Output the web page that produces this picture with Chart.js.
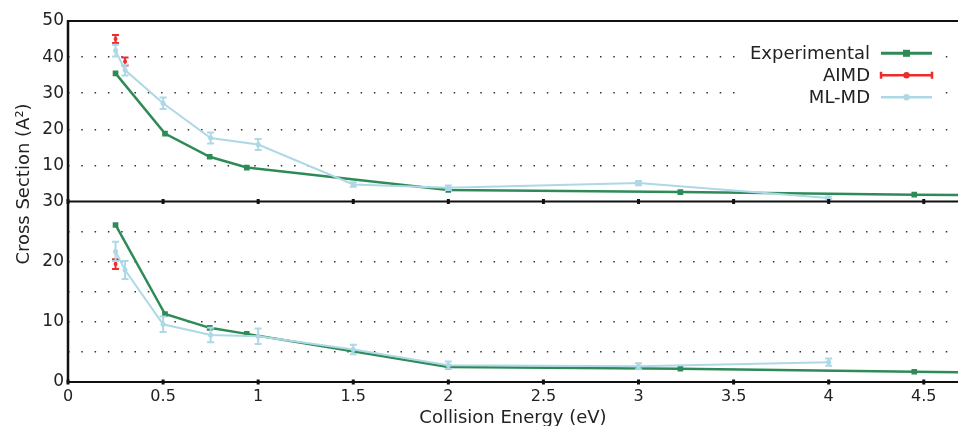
<!DOCTYPE html>
<html lang="en">
<head>
  <meta charset="UTF-8">
  <title>Cross Section vs Collision Energy</title>
  <script src="https://cdn.jsdelivr.net/npm/chart.js"></script>
  <style>
    html, body { margin: 0; padding: 0; background: #fff; overflow: hidden; }
    #wrap { width: 958px; height: 426px; overflow: hidden; }
  </style>
</head>
<body>
  <div id="wrap"><canvas id="csChart" width="962" height="426"></canvas></div>

  <script>
    // Experimental (green squares), same energies for both panels
    const expEnergy = [0.25, 0.51, 0.745, 0.94, 2.0, 3.22, 4.45, 5.0];
    const expTop = [35.5, 18.8, 12.4, 9.4, 3.2, 2.6, 1.9, 1.7];
    const expBottom = [26.1, 11.3, 9.0, 8.0, 2.5, 2.2, 1.7, 1.5];

    // ML-MD (light blue, with error bars)
    const mlEnergy = [0.25, 0.3, 0.5, 0.75, 1.0, 1.5, 2.0, 3.0, 4.0];
    const mlTop = [41.8, 36.4, 27.2, 17.6, 15.8, 4.7, 3.8, 5.1, 1.0];
    const mlTopErr = [1.6, 1.5, 1.6, 1.5, 1.5, 0.6, 0.6, 0.6, 0.4];
    const mlBottom = [21.7, 18.6, 9.6, 7.8, 7.6, 5.4, 2.8, 2.6, 3.3];
    const mlBottomErr = [1.6, 1.5, 1.3, 1.2, 1.3, 0.8, 0.6, 0.5, 0.6];

    // AIMD (red, error bars only)
    const aimdEnergyTop = [0.25, 0.3];
    const aimdTop = [45.0, 38.8];
    const aimdTopErr = [1.1, 1.1];
    const aimdEnergyBottom = [0.25];
    const aimdBottom = [19.6];
    const aimdBottomErr = [0.8];

    const xTicksMax = 4.68;
    const legendLabels = ['Experimental', 'AIMD', 'ML-MD'];

    const GREEN = '#2e8b57';
    const RED = '#ee2c2c';
    const BLUE = '#add8e6';

    const pts = (xs, ys) => xs.map((x, i) => ({ x: x, y: ys[i] }));

    Chart.defaults.font.family = '"DejaVu Sans", sans-serif';
    Chart.defaults.color = '#222';

    const dotGrid = (hide) => ({
      drawTicks: false,
      lineWidth: 1.5,
      color: ctx => hide.includes(ctx.tick.value) ? 'rgba(0,0,0,0)' : '#333'
    });

    const errorBars = {
      id: 'errorBars',
      afterDatasetDraw(chart, args) {
        const ds = chart.data.datasets[args.index];
        if (!ds.errors) return;
        const ctx = chart.ctx;
        const xs = chart.scales.x;
        const ys = chart.scales[ds.yAxisID];
        ctx.save();
        ctx.strokeStyle = ds.borderColor;
        ctx.lineWidth = 2;
        ds.data.forEach((p, i) => {
          const e = ds.errors[i];
          const px = xs.getPixelForValue(p.x);
          const lo = ys.getPixelForValue(p.y - e);
          const hi = ys.getPixelForValue(p.y + e);
          ctx.beginPath();
          ctx.moveTo(px, lo); ctx.lineTo(px, hi);
          ctx.moveTo(px - 3.5, lo); ctx.lineTo(px + 3.5, lo);
          ctx.moveTo(px - 3.5, hi); ctx.lineTo(px + 3.5, hi);
          ctx.stroke();
        });
        ctx.restore();
      }
    };

    const frame = {
      id: 'frame',
      afterDraw(chart) {
        const ctx = chart.ctx;
        const a = chart.chartArea;
        const mid = chart.scales.yTop.bottom;
        ctx.save();
        ctx.strokeStyle = '#111';
        ctx.lineWidth = 2;
        ctx.beginPath();
        [a.top, mid, a.bottom].forEach(y => { ctx.moveTo(a.left, y); ctx.lineTo(a.right, y); });
        ctx.stroke();
        ctx.lineWidth = 2.5;
        ctx.beginPath();
        ctx.moveTo(a.left, a.top - 1); ctx.lineTo(a.left, a.bottom + 1);
        ctx.stroke();

        // small tick marks on each panel's base line
        ctx.fillStyle = '#111';
        const xs = chart.scales.x;
        xs.ticks.forEach(t => {
          const px = xs.getPixelForValue(t.value);
          [mid, a.bottom].forEach(y => ctx.fillRect(px - 1.5, y - 2.5, 3, 5));
        });

        // shared y title
        ctx.fillStyle = '#222';
        ctx.font = '18px "DejaVu Sans", sans-serif';
        ctx.textAlign = 'center';
        ctx.textBaseline = 'middle';
        ctx.translate(24, 184);
        ctx.rotate(-Math.PI / 2);
        ctx.fillText('Cross Section (A\u00B2)', 0, 0);
        ctx.restore();

        // legend: text left of the line sample
        ctx.save();
        ctx.fillStyle = '#fff';
        ctx.fillRect(745, 42, 196, 66);
        const rowsY = [54.5, 76.5, 98.5];
        const cols = [GREEN, RED, BLUE];
        ctx.font = '18px "DejaVu Sans", sans-serif';
        ctx.textAlign = 'right';
        ctx.textBaseline = 'middle';
        legendLabels.forEach((lab, i) => {
          ctx.fillStyle = '#222';
          ctx.fillText(lab, 870, rowsY[i]);
          const ly = rowsY[i] - 1.2;
          ctx.strokeStyle = cols[i];
          ctx.lineWidth = i === 0 ? 3 : 2.5;
          ctx.beginPath();
          ctx.moveTo(881, ly); ctx.lineTo(932, ly);
          if (i === 1) {
            ctx.moveTo(881, ly - 3.5); ctx.lineTo(881, ly + 3.5);
            ctx.moveTo(932, ly - 3.5); ctx.lineTo(932, ly + 3.5);
          }
          ctx.stroke();
          ctx.fillStyle = cols[i];
          ctx.beginPath();
          if (i === 0) ctx.rect(903, ly - 3.5, 7, 7);
          else ctx.arc(906.5, ly, 3.2, 0, Math.PI * 2);
          ctx.fill();
        });
        ctx.restore();
      }
    };

    const config = {
      type: 'scatter',
      data: {
        datasets: [
          { label: 'ML-MD', data: pts(mlEnergy, mlTop), errors: mlTopErr, yAxisID: 'yTop', order: 0,
            showLine: true, borderColor: BLUE, backgroundColor: BLUE, borderWidth: 2, pointRadius: 2.5, pointBorderWidth: 0 },
          { label: 'ML-MD', data: pts(mlEnergy, mlBottom), errors: mlBottomErr, yAxisID: 'yBot', order: 0,
            showLine: true, borderColor: BLUE, backgroundColor: BLUE, borderWidth: 2, pointRadius: 2.5, pointBorderWidth: 0 },
          { label: 'AIMD', data: pts(aimdEnergyTop, aimdTop), errors: aimdTopErr, yAxisID: 'yTop', order: 1,
            showLine: false, borderColor: RED, backgroundColor: RED, pointRadius: 2, pointBorderWidth: 0 },
          { label: 'AIMD', data: pts(aimdEnergyBottom, aimdBottom), errors: aimdBottomErr, yAxisID: 'yBot', order: 1,
            showLine: false, borderColor: RED, backgroundColor: RED, pointRadius: 2, pointBorderWidth: 0 },
          { label: 'Experimental', data: pts(expEnergy, expTop), yAxisID: 'yTop', order: 2,
            showLine: true, borderColor: GREEN, backgroundColor: GREEN, borderWidth: 2.5, pointStyle: 'rect', pointRadius: 4, pointBorderWidth: 0 },
          { label: 'Experimental', data: pts(expEnergy, expBottom), yAxisID: 'yBot', order: 2,
            showLine: true, borderColor: GREEN, backgroundColor: GREEN, borderWidth: 2.5, pointStyle: 'rect', pointRadius: 4, pointBorderWidth: 0 }
        ]
      },
      options: {
        responsive: false,
        animation: false,
        layout: { padding: { top: 21, right: 0, left: 0, bottom: 0 } },
        plugins: { legend: { display: false }, tooltip: { enabled: false } },
        scales: {
          x: {
            type: 'linear', min: 0, max: xTicksMax,
            ticks: { stepSize: 0.5, includeBounds: false, padding: -3, font: { size: 16 }, maxTicksLimit: 20,
              callback: v => String(+v.toFixed(2)) },
            grid: { display: false },
            border: { display: false },
            title: { display: true, text: 'Collision Energy (eV)', font: { size: 18 }, padding: { top: 0, bottom: -3 } },
            afterFit: s => { s.height = 44; }
          },
          yBot: {
            type: 'linear', position: 'left', stack: 'cs', stackWeight: 1, weight: 1,
            min: 0, max: 30,
            ticks: { stepSize: 5, padding: 4, font: { size: 17 }, maxTicksLimit: 20, autoSkip: false,
              callback: v => v % 10 === 0 ? v : '' },
            grid: dotGrid([0, 30]),
            border: { display: false, dash: [1.5, 11.8] },
            afterFit: s => { s.width = 68; }
          },
          yTop: {
            type: 'linear', position: 'left', stack: 'cs', stackWeight: 1, weight: 2,
            min: 0, max: 50,
            ticks: { stepSize: 10, padding: 4, font: { size: 17 }, maxTicksLimit: 20, autoSkip: false,
              callback: v => v === 0 ? '' : v },
            grid: dotGrid([0, 50]),
            border: { display: false, dash: [1.5, 11.8] },
            afterFit: s => { s.width = 68; }
          }
        }
      },
      plugins: [errorBars, frame]
    };

    const csChart = new Chart(document.getElementById('csChart'), config);
  </script>
</body>
</html>
